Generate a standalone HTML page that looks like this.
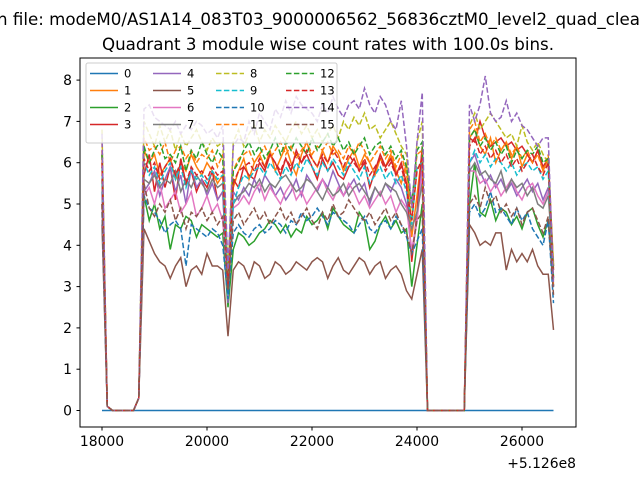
<!DOCTYPE html>
<html><head><meta charset="utf-8"><style>
body{margin:0;background:#fff}
svg{display:block;font-family:"DejaVu Sans","Liberation Sans",sans-serif}
</style></head><body>
<svg id="chart" width="640" height="480" viewBox="0 0 640 480">
<rect width="640" height="480" fill="#fff"/>
<text x="-3" y="25" font-size="16.67">n file: modeM0/AS1A14_083T03_9000006562_56836cztM0_level2_quad_clean.evt</text>
<text x="328" y="50" font-size="16.67" text-anchor="middle">Quadrant 3 module wise count rates with 100.0s bins.</text>
<g id="series"></g>
<rect x="80" y="58" width="496" height="369" fill="none" stroke="#000" stroke-width="1"/>
<g id="xticks"></g>
<g id="yticks"></g>
<text x="576" y="468" font-size="13.9" text-anchor="end">+5.126e8</text>
<g id="legend"></g>
</svg>
<script>
const times = [];
for (let t = 18000; t <= 26600; t += 100) times.push(t);
const xTicks = [18000, 20000, 22000, 24000, 26000];
const yTicks = [0, 1, 2, 3, 4, 5, 6, 7, 8];
const labels = ["0","1","2","3","4","5","6","7","8","9","10","11","12","13","14","15"];
const colors = ["#1f77b4","#ff7f0e","#2ca02c","#d62728","#9467bd","#8c564b","#e377c2","#7f7f7f","#bcbd22","#17becf","#1f77b4","#ff7f0e","#2ca02c","#d62728","#9467bd","#8c564b"];
const Z = [0,0,0,0,0,0,0,0];
const s0 = new Array(87).fill(0);
const s1 = [6.2,0.1,0,0,0,0,0,0.3, 6.3,6.0,6.2,5.7,5.9,6.1,5.6,6.0,5.8,6.2,5.9,5.7,6.0,5.8,5.5,5.7, 3.0, 5.4,5.8,6.1,5.6,6.0,6.2,5.9,6.3,5.8,6.1,6.4,6.0,5.7,6.2,6.5,6.1,5.9,6.3,6.0,6.4,6.2,5.8,6.1,6.3,5.9,6.2,6.0,5.7,6.1,5.9,6.2,5.8,5.5,6.0,4.2,5.2, 6.3, ...Z, 6.6, 6.8,6.4,6.2,6.6,6.0,6.3,6.5,6.1,6.4,5.9,6.2,6.0,6.3,5.8,6.1,3.5];
const s2 = [5.0,0.1,0,0,0,0,0,0.3, 5.2,4.6,5.0,4.4,4.7,3.9,4.5,4.4,4.7,4.6,4.2,4.5,4.4,4.3,4.2,4.3, 2.5, 3.9,4.3,4.2,4.0,4.1,4.3,4.4,4.6,4.5,4.3,4.5,4.2,4.4,4.3,4.7,4.5,4.6,4.8,4.4,4.9,4.7,4.5,4.4,4.3,4.8,4.6,3.9,4.1,4.5,4.7,4.4,4.6,4.3,4.4,3.0,4.0, 5.0, ...Z, 5.0, 6.0,4.8,4.7,5.1,4.6,4.9,4.8,4.5,4.7,4.4,4.8,4.9,4.5,4.2,4.6,3.0];
const s3 = [6.3,0.1,0,0,0,0,0,0.3, 5.7,6.2,5.3,6.0,5.4,5.9,5.1,6.1,5.5,5.8,5.3,5.6,5.4,5.8,5.1,5.3, 2.8, 5.6,5.4,5.9,5.7,5.6,6.0,5.8,6.2,6.0,5.7,6.1,5.8,6.3,6.0,6.2,5.9,5.6,6.1,5.8,6.0,5.7,5.6,5.9,6.1,5.8,6.0,5.4,5.8,6.2,5.9,6.1,5.7,6.0,5.5,3.6,4.8, 6.4, ...Z, 6.6, 6.5,7.0,6.6,6.4,6.5,6.6,6.4,6.5,6.3,6.4,6.2,6.0,6.3,5.9,6.1,3.4];
const s4 = [5.3,0.1,0,0,0,0,0,0.3, 5.3,5.5,5.8,5.2,5.6,5.9,5.3,5.7,5.0,5.9,5.4,5.6,5.2,5.5,5.1,5.3, 2.6, 5.3,5.1,5.4,5.2,5.6,5.3,5.7,5.5,5.2,5.4,5.1,5.3,5.6,5.2,5.7,5.5,5.3,5.6,5.4,5.8,5.5,5.2,5.4,5.6,5.3,5.5,5.0,5.4,5.2,5.5,5.3,5.6,5.4,5.0,3.8,4.6, 6.0, ...Z, 6.0, 6.2,5.8,5.5,5.7,5.4,5.6,5.3,5.5,5.2,5.4,5.6,5.3,5.5,5.1,5.4,3.2];
const s5 = [4.5,0.1,0,0,0,0,0,0.3, 4.4,4.1,3.8,3.6,3.5,3.2,3.5,3.7,3.0,3.4,3.5,3.3,3.8,3.5,3.5,3.4, 1.8, 3.4,3.6,3.5,3.2,3.6,3.5,3.2,3.3,3.6,3.5,3.3,3.4,3.6,3.5,3.4,3.6,3.7,3.6,3.2,3.5,3.7,3.4,3.3,3.5,3.7,3.6,3.3,3.5,3.6,3.2,3.4,3.5,3.3,2.9,2.7,3.3, 3.9, ...Z, 4.5, 4.3,4.0,4.1,4.0,4.3,4.3,3.4,3.9,3.6,3.8,3.6,3.9,3.5,3.3,3.3,1.95];
const s6 = [5.0,0.1,0,0,0,0,0,0.3, 5.2,5.4,5.0,5.5,4.9,5.1,5.3,4.8,5.0,5.3,4.7,4.9,5.2,4.8,5.0,4.6, 2.9, 4.9,5.0,5.2,5.0,5.3,5.5,5.1,5.4,5.2,5.0,5.3,5.5,5.1,5.3,5.0,5.2,5.4,5.6,5.3,5.1,5.4,5.2,5.5,5.3,5.0,5.2,4.9,5.1,5.3,5.0,5.2,4.8,5.1,4.9,3.9,4.6, 5.8, ...Z, 5.8, 5.8,5.5,5.6,5.3,5.5,5.2,5.4,5.6,5.3,5.1,5.4,5.5,5.2,5.0,5.3,3.6];
const s7 = [5.6,0.1,0,0,0,0,0,0.3, 5.6,5.5,5.7,5.4,5.6,5.5,5.8,5.3,5.6,5.4,5.7,5.5,5.3,5.6,5.4,5.5, 3.0, 5.0,5.2,5.3,5.5,5.4,5.6,5.3,5.5,5.4,5.6,5.7,5.5,5.3,5.4,5.6,5.5,5.3,5.1,5.4,5.2,5.3,5.5,5.2,5.4,5.5,5.3,5.1,5.4,5.2,5.5,5.4,5.3,5.0,4.8,4.4,4.8, 5.5, ...Z, 5.8, 6.0,5.7,5.8,5.6,5.5,5.8,5.3,5.6,5.4,5.5,5.2,5.4,5.0,4.9,5.2,3.5];
const s8 = [6.8,0.1,0,0,0,0,0,0.3, 7.0,6.7,6.4,6.9,6.5,6.8,6.3,6.7,6.4,6.6,6.8,6.5,6.3,6.6,6.4,6.5, 3.2, 6.5,6.8,6.4,6.7,6.9,6.5,6.8,6.6,6.9,6.7,6.5,6.8,7.0,6.7,6.9,6.6,6.8,6.5,6.7,6.9,6.6,7.0,6.8,7.1,6.9,7.2,6.8,6.9,6.6,6.8,7.0,6.7,6.4,6.2,4.5,6.5, 7.0, ...Z, 6.9, 7.2,6.8,7.0,7.2,7.0,6.8,6.6,6.7,6.4,6.9,6.5,6.3,6.5,6.2,6.0,3.5];
const s9 = [5.9,0.1,0,0,0,0,0,0.3, 6.0,5.7,5.9,5.5,5.8,6.0,5.6,5.9,5.4,5.8,5.6,5.7,5.5,5.8,5.6,5.7, 2.8, 5.0,5.4,5.7,5.6,5.8,5.9,5.7,6.0,5.8,5.6,5.9,5.7,6.0,5.8,6.1,5.9,5.7,6.0,5.8,6.1,5.9,5.7,6.0,5.8,5.6,5.9,5.5,5.7,5.9,5.6,5.8,5.5,5.7,5.3,4.5,5.9, 6.0, ...Z, 6.0, 6.3,6.0,6.2,5.9,6.1,6.0,5.8,6.0,5.7,5.9,6.0,5.8,5.9,5.6,5.8,3.0];
const s10 = [4.8,0.1,0,0,0,0,0,0.3, 5.2,4.9,4.8,4.6,4.3,4.5,4.6,4.4,3.5,4.5,4.4,4.3,4.2,4.4,4.3,4.0, 2.7, 4.3,4.5,4.3,4.2,4.4,4.5,4.3,4.4,4.6,4.5,4.3,4.6,4.5,4.8,4.6,4.7,4.9,4.7,4.5,4.8,4.7,4.6,4.5,4.3,4.5,4.7,4.4,4.3,4.5,4.6,4.4,4.7,4.5,4.2,3.8,4.1, 4.4, ...Z, 4.8, 5.0,4.7,4.9,5.3,4.8,4.9,4.7,4.5,4.9,4.6,4.8,4.4,4.2,4.0,4.6,2.6];
const s11 = [6.5,0.1,0,0,0,0,0,0.3, 6.6,6.3,6.4,6.2,6.5,6.0,6.3,6.4,6.1,6.3,6.0,6.2,6.1,6.3,5.9,6.2, 3.1, 5.8,6.1,6.2,6.3,6.0,6.2,6.4,6.1,6.3,6.5,6.2,6.4,6.1,6.3,6.5,6.2,6.4,6.3,6.5,6.2,6.3,6.1,6.4,6.2,6.5,6.3,6.0,6.2,6.4,6.1,6.3,5.9,6.2,5.7,5.0,6.2, 6.3, ...Z, 6.8, 7.0,6.5,6.7,6.4,6.6,6.3,6.5,6.2,6.4,6.1,6.3,6.0,6.2,5.8,6.2,3.0];
const s12 = [6.2,0.1,0,0,0,0,0,0.3, 6.4,6.0,6.3,6.5,6.1,6.2,6.0,6.4,5.8,6.3,6.1,6.5,6.2,6.0,6.3,6.1, 3.0, 5.8,6.0,6.3,6.5,6.2,6.4,6.1,6.3,6.6,6.2,6.5,6.3,6.6,6.4,6.2,6.6,6.3,6.5,6.7,6.4,6.6,6.3,6.5,6.2,6.4,6.6,6.2,6.4,6.5,6.2,6.4,6.1,6.3,5.9,5.0,6.3, 6.5, ...Z, 6.6, 6.8,6.4,6.6,6.3,6.5,6.2,6.4,6.0,6.3,6.1,6.3,6.2,6.4,6.0,6.1,3.2];
const s13 = [6.0,0.1,0,0,0,0,0,0.3, 6.1,5.8,6.0,5.6,5.9,6.1,5.7,6.0,5.5,5.9,5.7,5.8,5.6,5.9,5.7,5.8, 3.0, 5.5,5.8,5.9,6.0,5.8,6.1,5.9,6.2,6.0,5.8,6.1,5.9,6.2,6.0,6.3,6.1,5.9,6.2,6.0,6.3,6.1,5.9,6.2,6.0,5.8,6.1,5.7,5.9,6.1,5.8,6.0,5.7,5.9,5.4,4.6,5.8, 6.1, ...Z, 6.4, 6.6,6.2,6.4,6.1,6.3,6.0,6.2,5.9,6.1,5.8,6.0,6.2,5.9,5.7,6.0,3.1];
const s14 = [6.7,0.1,0,0,0,0,0,0.3, 7.3,7.4,7.1,7.0,6.9,6.8,7.0,6.7,6.9,6.8,7.0,6.9,6.7,6.8,6.6,6.9, 3.4, 6.4,6.6,6.5,7.0,6.7,7.2,7.0,6.8,7.3,7.1,7.5,7.2,7.6,7.4,7.3,7.2,7.0,7.4,7.2,7.6,7.3,7.1,7.4,7.5,7.3,7.8,7.4,7.2,7.6,7.4,7.0,6.8,7.5,6.4,4.9,6.5, 7.7, ...Z, 7.4, 7.0,7.4,8.1,7.2,7.0,7.1,7.5,7.0,7.2,6.9,6.8,6.6,6.4,6.6,6.6,3.0];
const s15 = [5.0,0.1,0,0,0,0,0,0.3, 5.5,4.9,4.7,5.0,4.8,5.1,4.6,4.9,4.4,4.8,4.7,4.9,4.6,4.8,4.5,4.7, 2.9, 4.6,4.8,4.5,4.7,4.9,4.6,4.8,4.5,4.7,4.9,4.6,4.8,4.5,4.7,4.9,4.6,4.4,4.8,4.6,5.0,4.7,4.8,5.1,4.9,4.7,4.6,4.8,4.5,4.7,4.9,4.6,4.8,4.5,4.3,3.8,4.6, 4.8, ...Z, 5.0, 5.2,4.9,5.4,5.0,5.2,4.8,5.0,4.7,4.9,4.5,4.8,4.9,4.6,4.3,4.7,2.8];
const series = [s0,s1,s2,s3,s4,s5,s6,s7,s8,s9,s10,s11,s12,s13,s14,s15];

const NS = "http://www.w3.org/2000/svg";
const xScale = t => 102 + (t - 18000) * 0.0525;
const yScale = v => 410.5 - v * 41.3;

const g = document.getElementById('series');
series.forEach((vals, k) => {
  const p = document.createElementNS(NS, 'polyline');
  p.setAttribute('points', vals.map((v, i) => xScale(times[i]).toFixed(2) + ',' + yScale(v).toFixed(2)).join(' '));
  p.setAttribute('fill', 'none');
  p.setAttribute('stroke', colors[k]);
  p.setAttribute('stroke-width', '1.5');
  if (k >= 8) p.setAttribute('stroke-dasharray', '5.5,2.4');
  
  
  g.appendChild(p);
});

const xg = document.getElementById('xticks');
xTicks.forEach(t => {
  const x = xScale(t);
  const l = document.createElementNS(NS, 'line');
  l.setAttribute('x1', x); l.setAttribute('x2', x); l.setAttribute('y1', 427); l.setAttribute('y2', 430.5);
  l.setAttribute('stroke', '#000');
  
  
  xg.appendChild(l);
  const tx = document.createElementNS(NS, 'text');
  tx.setAttribute('x', x); tx.setAttribute('y', 446); tx.setAttribute('font-size', '13.9'); tx.setAttribute('text-anchor', 'middle');
  tx.textContent = t;
  
  
  xg.appendChild(tx);
});
const yg = document.getElementById('yticks');
yTicks.forEach(v => {
  const y = yScale(v);
  const l = document.createElementNS(NS, 'line');
  l.setAttribute('x1', 76.5); l.setAttribute('x2', 80); l.setAttribute('y1', y); l.setAttribute('y2', y);
  l.setAttribute('stroke', '#000');
  
  
  yg.appendChild(l);
  const tx = document.createElementNS(NS, 'text');
  tx.setAttribute('x', 72); tx.setAttribute('y', y + 5); tx.setAttribute('font-size', '13.9'); tx.setAttribute('text-anchor', 'end');
  tx.textContent = v;
  
  
  yg.appendChild(tx);
});

const lg = document.getElementById('legend');
const box = document.createElementNS(NS, 'rect');
box.setAttribute('x', 86); box.setAttribute('y', 63); box.setAttribute('width', 251); box.setAttribute('height', 80);
box.setAttribute('rx', 2); box.setAttribute('fill', '#fff'); box.setAttribute('fill-opacity', '0.8'); box.setAttribute('stroke', '#ccc');


lg.appendChild(box);
const colX = [90, 153, 216, 286];
labels.forEach((lab, k) => {
  const c = Math.floor(k / 4), r = k % 4;
  const y = 73.5 + r * 17;
  const l = document.createElementNS(NS, 'line');
  l.setAttribute('x1', colX[c]); l.setAttribute('x2', colX[c] + 28); l.setAttribute('y1', y); l.setAttribute('y2', y);
  l.setAttribute('stroke', colors[k]); l.setAttribute('stroke-width', '1.5');
  if (k >= 8) l.setAttribute('stroke-dasharray', '5.5,2.4');
  
  
  lg.appendChild(l);
  const tx = document.createElementNS(NS, 'text');
  tx.setAttribute('x', colX[c] + 34); tx.setAttribute('y', y + 4); tx.setAttribute('font-size', '11.5');
  tx.textContent = lab;
  
  
  lg.appendChild(tx);
});
</script>
</body></html>
